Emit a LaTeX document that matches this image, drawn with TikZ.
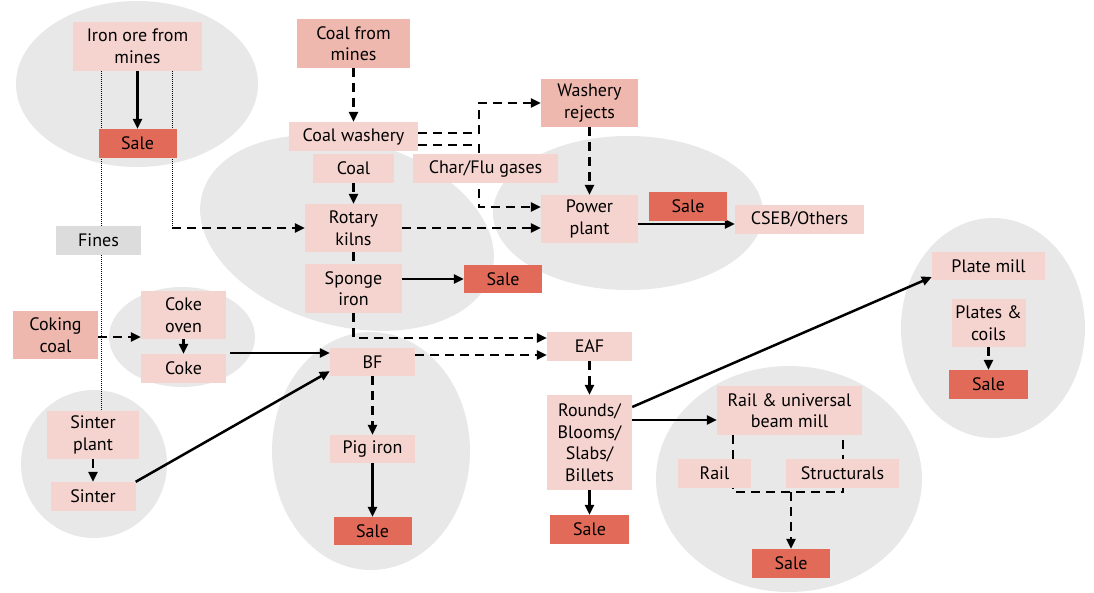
\documentclass[tikz,border=0pt]{standalone}
\usepackage{fontspec}
\setmainfont{PT Sans}
\usetikzlibrary{arrows.meta}
\definecolor{boxpink}{HTML}{F5D4D0}
\definecolor{boxrose}{HTML}{EFB8AF}
\definecolor{salered}{HTML}{E16B58}
\definecolor{blobgray}{HTML}{E8E8E8}
\definecolor{finesgray}{HTML}{DCDCDC}
\pgfdeclarelayer{back}
\pgfdeclarelayer{lines}
\pgfsetlayers{back,lines,main}

\begin{document}
\begin{tikzpicture}[
  x=1pt, y=-1pt,
  box/.style={fill=boxpink, inner sep=0pt, align=center, text=black,
              font=\fontsize{18}{21.5}\selectfont, minimum height=29pt},
  rose/.style={box, fill=boxrose},
  sale/.style={box, fill=salered},
  fine/.style={box, fill=finesgray},
  arr/.style={-{Triangle[length=10pt,width=9pt]}, line width=2.5pt},
  dline/.style={line width=2.5pt, dash pattern=on 9pt off 6pt},
  darr/.style={arr, dline},
  dotline/.style={line width=1pt, dash pattern=on 1pt off 1pt}
]
  \useasboundingbox (0,0) rectangle (1094,592);

  \begin{pgfonlayer}{back}
    \fill[blobgray] (137,84) ellipse [x radius=121, y radius=83];
    \fill[blobgray, rotate around={-15:(347,233)}] (347,233) ellipse [x radius=150, y radius=93];
    \fill[blobgray] (628,213) ellipse [x radius=135, y radius=77];
    \fill[blobgray] (182,337) ellipse [x radius=73, y radius=50];
    \fill[blobgray] (94,464) ellipse [x radius=73, y radius=74];
    \fill[blobgray] (371,451) ellipse [x radius=99, y radius=119];
    \fill[blobgray] (789,479) ellipse [x radius=133, y radius=113];
    \fill[blobgray] (993,328) ellipse [x radius=92, y radius=110];
  \end{pgfonlayer}

  \node[box, minimum width=129pt, minimum height=49pt] (ore) at (137.5,46.5) {Iron ore from\\mines};
  \node[sale, minimum width=78pt] (oresale) at (137.5,143.5) {Sale};
  \node[fine, minimum width=85pt] (fines) at (98.5,240.5) {Fines};
  \node[rose, minimum width=113pt, minimum height=49pt] (coalmine) at (353.5,43.5) {Coal from\\mines};
  \node[box, minimum width=129pt] (washery) at (353.5,136.5) {Coal washery};
  \node[box, minimum width=81pt] (coal) at (353.5,168.5) {Coal};
  \node[box, minimum width=145pt] (char) at (485.5,168.5) {Char/Flu gases};
  \node[box, minimum width=97pt, minimum height=48pt] (kilns) at (353.5,228) {Rotary\\kilns};
  \node[box, minimum width=97pt, minimum height=49pt] (sponge) at (353.5,288.5) {Sponge\\iron};
  \node[sale, minimum width=78pt, minimum height=28pt] (spongesale) at (503,279) {Sale};
  \node[rose, minimum width=97pt, minimum height=48pt] (rejects) at (589.5,103) {Washery\\rejects};
  \node[box, minimum width=97pt, minimum height=48pt] (power) at (589.5,219) {Power\\plant};
  \node[sale, minimum width=78pt] (powersale) at (688,206.5) {Sale};
  \node[box, minimum width=129pt] (cseb) at (799.5,219.5) {CSEB/Others};
  \node[rose, minimum width=85pt, minimum height=48pt] (coking) at (55.5,335) {Coking\\coal};
  \node[box, minimum width=85pt, minimum height=48pt] (oven) at (183.5,315) {Coke\\oven};
  \node[box, minimum width=85pt] (coke) at (183.5,368.5) {Coke};
  \node[box, minimum width=85pt, minimum height=28pt] (bf) at (372.5,362) {BF};
  \node[box, minimum width=85pt, minimum height=28pt] (pig) at (372.5,449) {Pig iron};
  \node[sale, minimum width=78pt, minimum height=28pt] (pigsale) at (372.5,531) {Sale};
  \node[box, minimum width=92pt, minimum height=48pt] (sinterplant) at (93,435) {Sinter\\plant};
  \node[box, minimum width=85pt] (sinter) at (93,496.5) {Sinter};
  \node[box, minimum width=85pt] (eaf) at (589.5,346.5) {EAF};
  \node[box, minimum width=85pt, minimum height=95pt] (rounds) at (589.5,442.5) {Rounds/\\Blooms/\\Slabs/\\Billets};
  \node[sale, minimum width=79pt] (roundsale) at (589.5,529.5) {Sale};
  \node[box, minimum width=145pt, minimum height=49pt] (railmill) at (789.5,410.5) {Rail \& universal\\beam mill};
  \node[box, minimum width=73pt] (rail) at (714.5,473.5) {Rail};
  \node[box, minimum width=113pt] (struct) at (842.5,473.5) {Structurals};
  \node[sale, minimum width=78pt] (railsale) at (791,563.5) {Sale};
  \node[box, minimum width=113pt, minimum height=28pt] (platemill) at (988.5,266) {Plate mill};
  \node[box, minimum width=74pt, minimum height=48pt] (plates) at (988.5,323) {Plates \&\\coils};
  \node[sale, minimum width=79pt] (platesale) at (988.5,384.5) {Sale};

  \coordinate (orel) at (101,71);
  \coordinate (orer) at (172,71);
  \coordinate (jl) at (733,492);
  \coordinate (jr) at (843,492);
  \coordinate (jm) at (791,492);

  \begin{pgfonlayer}{lines}
    \draw[dotline] (orel) -- (orel |- sinterplant.north);
    \draw[dotline] (orer) -- (orer |- kilns.west);
    \draw[darr] (orer |- kilns.west) -- (kilns.west);
    \draw[arr] (ore) -- (oresale);
    \draw[darr] (coalmine) -- (washery);
    \draw[darr] ([yshift=3.5pt]washery.east) -- ++(61,0) |- (rejects.west);
    \draw[darr] ([yshift=-8.5pt]washery.east) -- ++(61,0) |- ([yshift=12pt]power.west);
    \draw[darr] (coal) -- (kilns);
    \draw[dline] (kilns) -- (sponge);
    \draw[darr] (kilns.east) -- (kilns.east -| power.west);
    \draw[arr] (sponge.east |- spongesale) -- (spongesale.west);
    \draw[darr] (sponge.south) |- ([yshift=8.5pt]eaf.west);
    \draw[darr] ([yshift=7pt]bf.east) -- ([yshift=-8.5pt]eaf.west);
    \draw[darr] (rejects) -- (power);
    \draw[arr] ([yshift=-5pt]power.east) -- ([yshift=-4.5pt]cseb.west);
    \draw[darr] ([yshift=-2pt]coking.east) -- ([yshift=-22pt]oven.west);
    \draw[arr] (oven) -- (coke);
    \draw[arr] ([xshift=4pt,yshift=15.5pt]coke.east) -- ([yshift=9pt]bf.west);
    \draw[arr] (sinter.north east) -- ([yshift=5pt]bf.south west);
    \draw[darr] (bf) -- (pig);
    \draw[arr] (pig) -- (pigsale);
    \draw[darr] (sinterplant) -- (sinter);
    \draw[darr] (eaf) -- (rounds);
    \draw[arr] (rounds) -- (roundsale);
    \draw[arr] ([yshift=22.5pt]rounds.east) -- ([yshift=-9.5pt]railmill.west);
    \draw[arr] ([yshift=35.5pt]rounds.east) -- ([yshift=-11pt]platemill.west);
    \draw[dline] (railmill.south -| jl) -- (jl) -- (jr) -- (jr |- railmill.south);
    \draw[darr] (jm) -- (jm |- railsale.north);
    \draw[darr] (plates) -- (platesale);
  \end{pgfonlayer}
\end{tikzpicture}
\end{document}
